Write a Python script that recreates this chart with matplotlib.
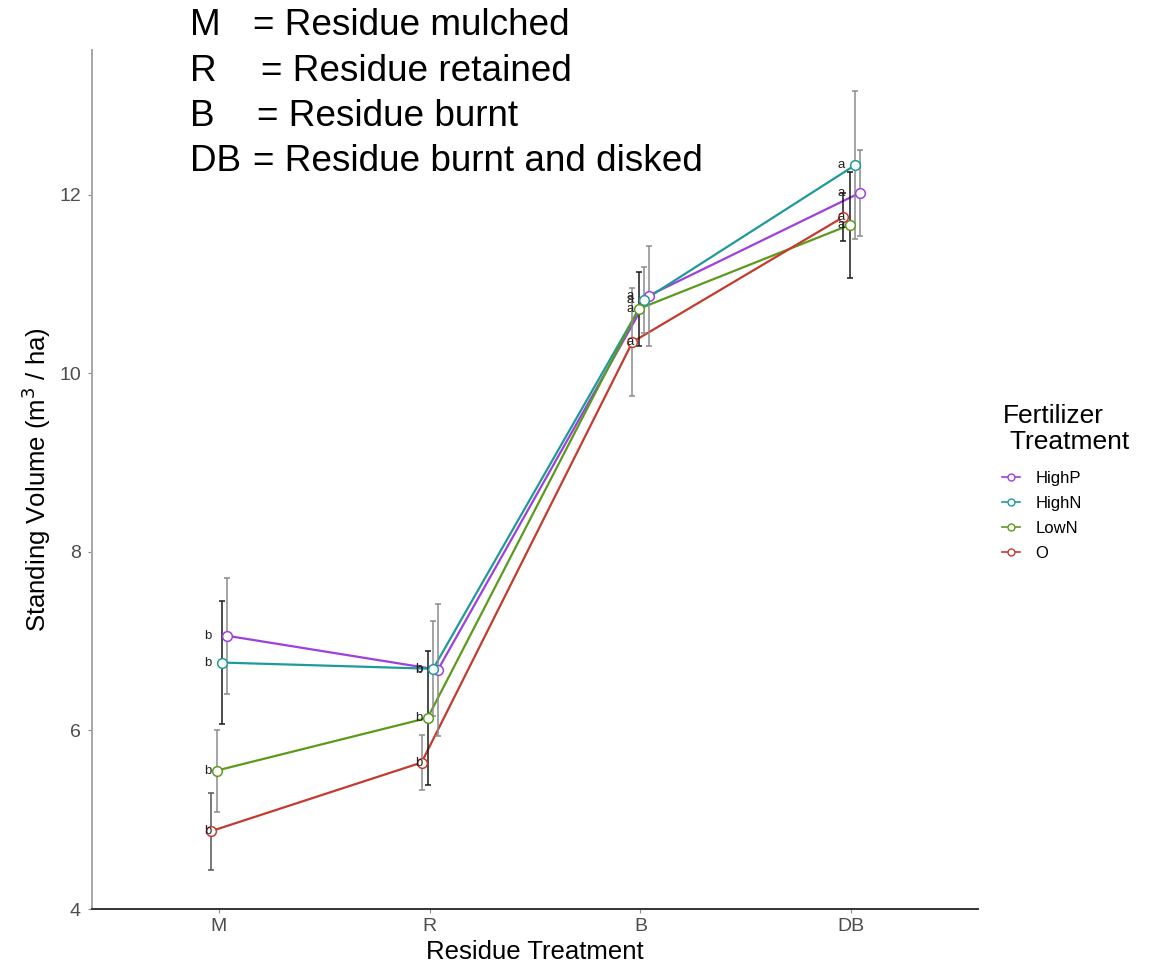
import matplotlib.pyplot as plt
from matplotlib.lines import Line2D
import numpy as np

plt.rcParams['font.family'] = ['Liberation Sans', 'DejaVu Sans']

residue = ['M', 'R', 'B', 'DB']
groups = ['HighP', 'HighN', 'LowN', 'O']
colors = {'HighP': '#9f3fe0', 'HighN': '#1f9a9a', 'LowN': '#5c9a1c', 'O': '#c53a2e'}

# means and half-widths of the error bars
mean_highp = [7.06, 6.68, 10.87, 12.02]
mean_highn = [6.76, 6.69, 10.82, 12.33]
mean_lown = [5.55, 6.14, 10.72, 11.66]
mean_o = [4.87, 5.64, 10.35, 11.75]

err_highp = [0.65, 0.74, 0.56, 0.48]
err_highn = [0.69, 0.53, 0.37, 0.83]
err_lown = [0.46, 0.75, 0.41, 0.59]
err_o = [0.43, 0.31, 0.61, 0.27]

letters = ['b', 'b', 'a', 'a']

means = {'HighP': mean_highp, 'HighN': mean_highn, 'LowN': mean_lown, 'O': mean_o}
errs = {'HighP': err_highp, 'HighN': err_highn, 'LowN': err_lown, 'O': err_o}

# dodge offsets and error bar shades
dodge = {'HighP': 0.040, 'HighN': 0.017, 'LowN': -0.009, 'O': -0.038}
dark, light = '#1a1a1a', '#8c8c8c'
bar_shade = {'HighP': [light, light, light, light],
             'HighN': [dark, light, light, light],
             'LowN': [light, dark, dark, dark],
             'O': ['#555555', light, light, dark]}

fig = plt.figure(figsize=(11.52, 9.64), dpi=100)
ax = fig.add_axes([92 / 1152, 1 - 909 / 964, (978 - 92) / 1152, (909 - 50) / 964])

x = np.arange(1, len(residue) + 1)
handles = []
for g in groups:
    xs = x + dodge[g]
    ax.plot(xs, means[g], color=colors[g], lw=1.6, zorder=2)
    for i in range(len(residue)):
        ax.errorbar(xs[i], means[g][i], yerr=errs[g][i], fmt='none',
                    ecolor=bar_shade[g][i], elinewidth=1.1, capsize=2.2,
                    capthick=1.1, zorder=3)
    ax.plot(xs, means[g], 'o', ms=7, mfc='white', mec=colors[g], mew=1.1,
            zorder=4)
    for i in range(len(residue)):
        ax.text(x[i] - 0.05, means[g][i], letters[i], fontsize=9.5,
                ha='center', va='center', color='#222222', zorder=5)
    handles.append(Line2D([], [], color=colors[g], lw=1.2, marker='o', ms=5,
                          mfc='white', mec=colors[g], mew=1.0))

ax.set_xlim(0.4, 4.6)
ax.set_ylim(4, 13.62)
ax.set_xticks(x)
ax.set_xticklabels(residue)
ax.set_yticks([4, 6, 8, 10, 12])
ax.tick_params(colors='#8c8c8c', labelcolor='#4d4d4d', labelsize=14, length=3)
ax.tick_params(axis='y', pad=5)
for s in ['top', 'right']:
    ax.spines[s].set_visible(False)
ax.spines['left'].set_color('#a6a6a6')
ax.spines['bottom'].set_color('#333333')
ax.spines['left'].set_linewidth(1.4)
ax.spines['bottom'].set_linewidth(1.4)

ax.set_xlabel('Residue Treatment', fontsize=18.5)
ax.set_ylabel('Standing Volume (m$^3$ / ha)', fontsize=18.5)
ax.xaxis.set_label_coords(0.5, -(940 - 909) / 859)
ax.yaxis.set_label_coords(-(92 - 53) / 886, 0.5)

# key for the residue codes
codes = ['M', 'R', 'B', 'DB']
meanings = ['= Residue mulched', '= Residue retained', '= Residue burnt',
            '= Residue burnt and disked']
eq_x = [253, 261, 257, 253]
base_y = [35, 81, 126, 171]
for c, m, ex, by in zip(codes, meanings, eq_x, base_y):
    fig.text(190 / 1152, 1 - by / 964, c, fontsize=26.6, ha='left', va='baseline')
    fig.text(ex / 1152, 1 - by / 964, m, fontsize=26.6, ha='left', va='baseline')

# legend: title as its own text, entries below it
fig.text(1003 / 1152, 1 - 416 / 964, 'Fertilizer', fontsize=19, ha='left', va='center')
fig.text(1003 / 1152, 1 - 442 / 964, ' Treatment', fontsize=19, ha='left', va='center')
leg = fig.legend(handles, groups, loc='upper left',
                 bbox_to_anchor=(1002 / 1152, 1 - 471 / 964),
                 frameon=False, fontsize=12, handlelength=1.1, handletextpad=0.9,
                 labelspacing=0.6, borderpad=0, borderaxespad=0)

fig.savefig('out.png', dpi=100)
